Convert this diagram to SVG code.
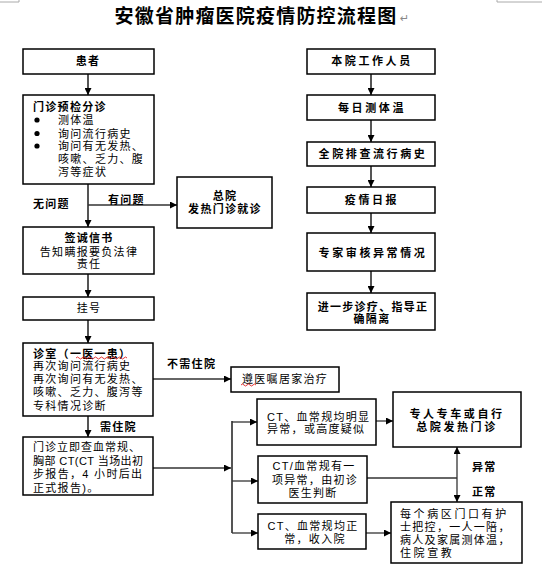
<svg xmlns="http://www.w3.org/2000/svg" width="542" height="577" viewBox="0 0 542 577">
<defs>
<style>
.box{fill:#fff;stroke:#000;stroke-width:1.5}
.t{font-family:"Liberation Sans","Noto Sans CJK SC",sans-serif;font-size:11px;fill:#000;letter-spacing:1.3px}
.b{font-weight:bold}
.m{text-anchor:middle}
.w{letter-spacing:2.6px}
.z{letter-spacing:0px}
.ttl{font-family:"Liberation Sans","Noto Sans CJK SC",sans-serif;font-size:19px;font-weight:bold;letter-spacing:1.2px;text-anchor:middle}
.c{fill:none;stroke:#333;stroke-width:1.3}
.v{fill:none;stroke:#555;stroke-width:2}
.mk{fill:none;stroke:#aaa;stroke-width:1}
.sq{fill:none;stroke:#d00;stroke-width:0.8}
</style>
<marker id="ah" viewBox="0 0 10 10" refX="10" refY="5" markerWidth="7" markerHeight="7" markerUnits="userSpaceOnUse" orient="auto">
<path d="M0,0 L10,5 L0,10 z" fill="#000"/>
</marker>
<marker id="as" viewBox="0 0 10 10" refX="0" refY="5" markerWidth="7" markerHeight="7" markerUnits="userSpaceOnUse" orient="auto">
<path d="M10,0 L0,5 L10,10 z" fill="#000"/>
</marker>
</defs>
<rect width="542" height="577" fill="#fff"/>
<path class="mk" d="M0,2 H19 V0 M542,2 H497 V0"/>
<text class="ttl" x="256" y="23">安徽省肿瘤医院疫情防控流程图</text>
<text x="400" y="22" font-family="'DejaVu Sans',sans-serif" font-size="11" fill="#888">↵</text>

<g id="connectors">
<path class="v" d="M88,74 V95" marker-end="url(#ah)"/>
<path class="v" d="M88,184 V227" marker-end="url(#ah)"/>
<path class="c" d="M88,205 H177" marker-end="url(#ah)"/>
<path class="v" d="M88,274 V297" marker-end="url(#ah)"/>
<path class="v" d="M88,320 V343" marker-end="url(#ah)"/>
<path class="v" d="M88,416 V437" marker-end="url(#ah)"/>
<path class="c" d="M153,379 H231" marker-end="url(#ah)"/>
<path class="c" d="M153,468 H231" marker-end="url(#ah)"/>
<path class="v" d="M232,421 V533"/>
<path class="c" d="M232,422 H257" marker-end="url(#ah)"/>
<path class="c" d="M232,481 H258" marker-end="url(#ah)"/>
<path class="c" d="M232,533 H258" marker-end="url(#ah)"/>
<path class="c" d="M376,421 H393" marker-end="url(#ah)"/>
<path class="c" d="M367,478 H457"/>
<path class="c" d="M457,447 V502" marker-start="url(#as)" marker-end="url(#ah)"/>
<path class="c" d="M366,533 H391" marker-end="url(#ah)"/>
<path class="v" d="M371,74 V95" marker-end="url(#ah)"/>
<path class="v" d="M371,120 V142" marker-end="url(#ah)"/>
<path class="v" d="M371,166 V187" marker-end="url(#ah)"/>
<path class="v" d="M371,213 V233" marker-end="url(#ah)"/>
<path class="v" d="M371,271 V293" marker-end="url(#ah)"/>
<text class="t b" x="33" y="208">无问题</text>
<text class="t b" x="108" y="204">有问题</text>
<text class="t b" x="167" y="368">不需住院</text>
<text class="t b" x="100" y="431">需住院</text>
<text class="t b" x="472" y="471">异常</text>
<text class="t b" x="472" y="496">正常</text>
</g>

<g id="n-patient">
<rect class="box" x="23" y="49" width="131" height="25"/>
<text class="t b m" x="88" y="65">患者</text>
</g>
<g id="n-triage">
<rect class="box" x="23" y="95" width="131" height="89"/>
<text class="t b" x="33" y="111">门诊预检分诊</text>
<circle cx="37" cy="120" r="2.6"/>
<circle cx="37" cy="133.5" r="2.6"/>
<circle cx="37" cy="146" r="2.6"/>
<text class="t" x="58" y="124">测体温</text>
<text class="t" x="58" y="137.5">询问流行病史</text>
<text class="t" x="58" y="150">询问有无发热、</text>
<text class="t" x="58" y="163">咳嗽、乏力、腹</text>
<text class="t" x="58" y="176">泻等症状</text>
</g>
<g id="n-fever">
<rect class="box" x="177" y="177" width="95" height="51"/>
<text class="t b m" x="225" y="200">总院</text>
<text class="t b m" x="225" y="213">发热门诊就诊</text>
</g>
<g id="n-pledge">
<rect class="box" x="23" y="227" width="131" height="47"/>
<text class="t b m" x="89" y="242">签诚信书</text>
<text class="t m" x="89" y="256">告知瞒报要负法律</text>
<text class="t m" x="89" y="268">责任</text>
</g>
<g id="n-register">
<rect class="box" x="23" y="297" width="131" height="23"/>
<text class="t m" x="89" y="312">挂号</text>
</g>
<g id="n-clinic">
<rect class="box" x="23" y="343" width="130" height="73"/>
<text class="t b" x="33" y="358">诊室（一医一患）</text>
<path class="sq" d="M76,358 q1.5,-2 3,0 t3,0 t3,0 t3,0 t3,0 t3,0 t3,0 t3,0 t3,0 t3,0 t3,0 t3,0 t3,0 t3,0 t3,0 t3,0 t3,0"/>
<text class="t" x="33" y="370">再次询问流行病史</text>
<text class="t" x="33" y="383">再次询问有无发热、</text>
<text class="t" x="33" y="396">咳嗽、乏力、腹泻等</text>
<text class="t" x="33" y="410">专科情况诊断</text>
</g>
<g id="n-home">
<rect class="box" x="231" y="367" width="108" height="25"/>
<text class="t" x="242" y="383">遵医嘱居家治疗</text>
<path class="sq" d="M241,385 q1.5,-2 3,0 t3,0 t3,0 t3,0 t3,0"/>
</g>
<g id="n-tests">
<rect class="box" x="23" y="437" width="130" height="58"/>
<text class="t z" x="33" y="451" textLength="107" lengthAdjust="spacing">门诊立即查血常规、</text>
<text class="t z" x="33" y="465" textLength="110" lengthAdjust="spacing">胸部 CT(CT 当场出初</text>
<text class="t z" x="33" y="478" textLength="109" lengthAdjust="spacing">步报告，4 小时后出</text>
<text class="t" x="33" y="492">正式报告)。</text>
</g>
<g id="n-ct1">
<rect class="box" x="257" y="399" width="119" height="46"/>
<text class="t" x="267" y="421">CT、血常规均明显</text>
<text class="t" x="267" y="433">异常，或高度疑似</text>
</g>
<g id="n-transfer">
<rect class="box" x="393" y="392" width="128" height="55"/>
<text class="t b m w" x="457" y="418">专人专车或自行</text>
<text class="t b m w" x="457" y="431">总院发热门诊</text>
</g>
<g id="n-ct2">
<rect class="box" x="258" y="456" width="109" height="47"/>
<text class="t m" x="314" y="470">CT/血常规有一</text>
<text class="t m" x="315" y="484">项异常，由初诊</text>
<text class="t m" x="313" y="497">医生判断</text>
</g>
<g id="n-ct3">
<rect class="box" x="258" y="514" width="108" height="35"/>
<text class="t m" x="313" y="530">CT、血常规均正</text>
<text class="t m" x="315" y="543">常，收入院</text>
</g>
<g id="n-ward">
<rect class="box" x="391" y="502" width="131" height="61"/>
<text class="t w" x="400" y="518">每个病区门口有护</text>
<text class="t" x="400" y="531" letter-spacing="1.8">士把控，一人一陪，</text>
<text class="t" x="400" y="544" letter-spacing="1.8">病人及家属测体温，</text>
<text class="t w" x="400" y="557">住院宣教</text>
</g>
<g id="n-staff">
<rect class="box" x="307" y="49" width="128" height="25"/>
<text class="t b m w" x="372" y="65">本院工作人员</text>
</g>
<g id="n-temp">
<rect class="box" x="307" y="95" width="128" height="25"/>
<text class="t b m w" x="372" y="112">每日测体温</text>
</g>
<g id="n-screen">
<rect class="box" x="307" y="142" width="128" height="24"/>
<text class="t b m w" x="373" y="158">全院排查流行病史</text>
</g>
<g id="n-daily">
<rect class="box" x="307" y="187" width="128" height="26"/>
<text class="t b m w" x="372" y="204">疫情日报</text>
</g>
<g id="n-expert">
<rect class="box" x="307" y="233" width="128" height="38"/>
<text class="t b m w" x="373" y="257">专家审核异常情况</text>
</g>
<g id="n-further">
<rect class="box" x="307" y="293" width="128" height="37"/>
<text class="t b m" x="373" y="311" letter-spacing="1.6">进一步诊疗、指导正</text>
<text class="t b m" x="372" y="323" letter-spacing="1.6">确隔离</text>
</g>
</svg>
